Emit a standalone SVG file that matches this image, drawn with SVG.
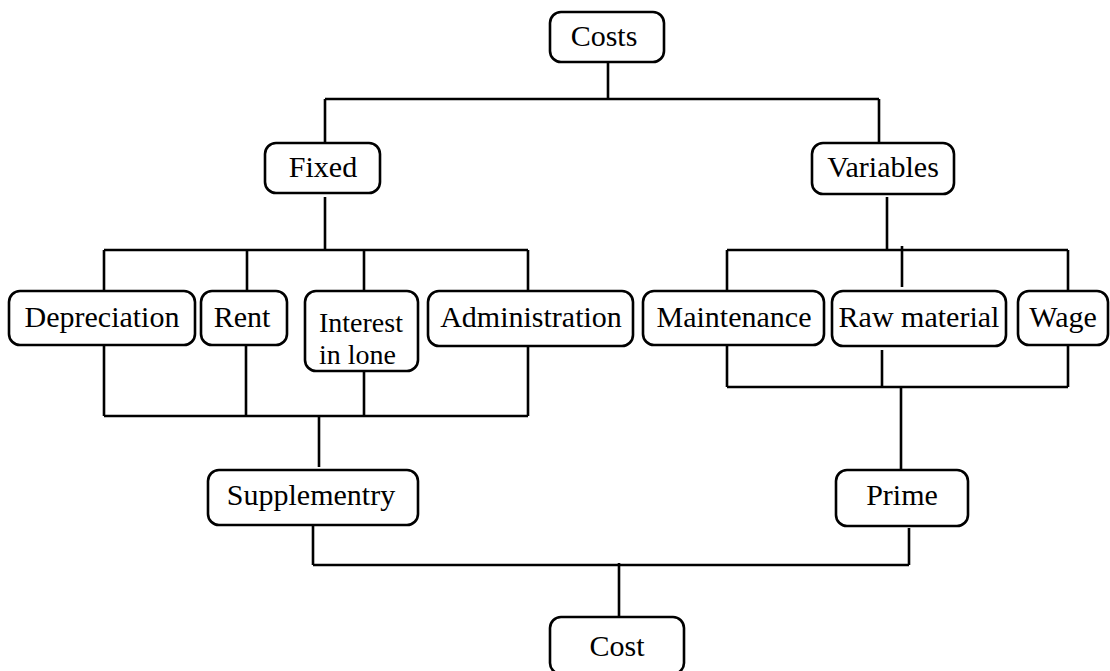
<svg xmlns="http://www.w3.org/2000/svg" width="1110" height="671" viewBox="0 0 1110 671">
<style>
.box{fill:#fff;stroke:#000;stroke-width:2.6}
.t{font-family:"Liberation Serif","Times New Roman",serif;font-size:30px;fill:#000;text-anchor:middle}
.ts{text-anchor:start;font-size:28px}
#connectors path{fill:none;stroke:#000;stroke-width:2.6}
</style>
<rect width="1110" height="671" fill="#fff"/>
<g id="connectors">
<path d="M608,63 V99 M325,99 H879 M325,99 V143 M879,99 V143"/>
<path d="M325,197 V250 M104,250 H528 M104,250 V291 M247,250 V291 M364,250 V291 M528,250 V291"/>
<path d="M887,197 V250 M727,250 H1068 M727,250 V291 M1068,250 V291 M902,246 V287"/>
<path d="M104,346 V416 M246,346 V416 M364,372 V416 M528,346 V416 M104,416 H528 M319,416 V467"/>
<path d="M727,346 V387 M882,350 V387 M1068,346 V387 M727,387 H1068 M901,387 V469"/>
<path d="M313,526 V565 M909,528 V565 M313,565 H909 M619,563 V616"/>
</g>
<g id="costs"><rect class="box" x="550" y="12" width="114" height="50" rx="11"/><text class="t" x="604" y="46">Costs</text></g>
<g id="fixed"><rect class="box" x="265" y="143" width="115" height="50" rx="11"/><text class="t" x="323" y="177">Fixed</text></g>
<g id="variables"><rect class="box" x="812" y="143" width="142" height="51" rx="11"/><text class="t" x="883" y="177">Variables</text></g>
<g id="depreciation"><rect class="box" x="9" y="291" width="186" height="54" rx="11"/><text class="t" x="102" y="327">Depreciation</text></g>
<g id="rent"><rect class="box" x="201" y="291" width="86" height="54" rx="11"/><text class="t" x="242" y="327">Rent</text></g>
<g id="interest"><rect class="box" x="305" y="291" width="113" height="80" rx="11"/><text class="t ts" x="319" y="332">Interest<tspan x="319" dy="31.5">in lone</tspan></text></g>
<g id="administration"><rect class="box" x="428" y="291" width="205" height="55" rx="11"/><text class="t" x="531" y="327">Administration</text></g>
<g id="maintenance"><rect class="box" x="643" y="291" width="181" height="54" rx="11"/><text class="t" x="734" y="327">Maintenance</text></g>
<g id="raw-material"><rect class="box" x="832" y="291" width="174" height="55" rx="11"/><text class="t" x="919" y="327">Raw material</text></g>
<g id="wage"><rect class="box" x="1018" y="291" width="90" height="54" rx="11"/><text class="t" x="1063" y="327">Wage</text></g>
<g id="supplementry"><rect class="box" x="208" y="470" width="210" height="55" rx="11"/><text class="t" x="311" y="505">Supplementry</text></g>
<g id="prime"><rect class="box" x="836" y="470" width="132" height="56" rx="11"/><text class="t" x="902" y="505">Prime</text></g>
<g id="cost"><rect class="box" x="550" y="617" width="134" height="57" rx="11"/><text class="t" x="617" y="656">Cost</text></g>
</svg>
